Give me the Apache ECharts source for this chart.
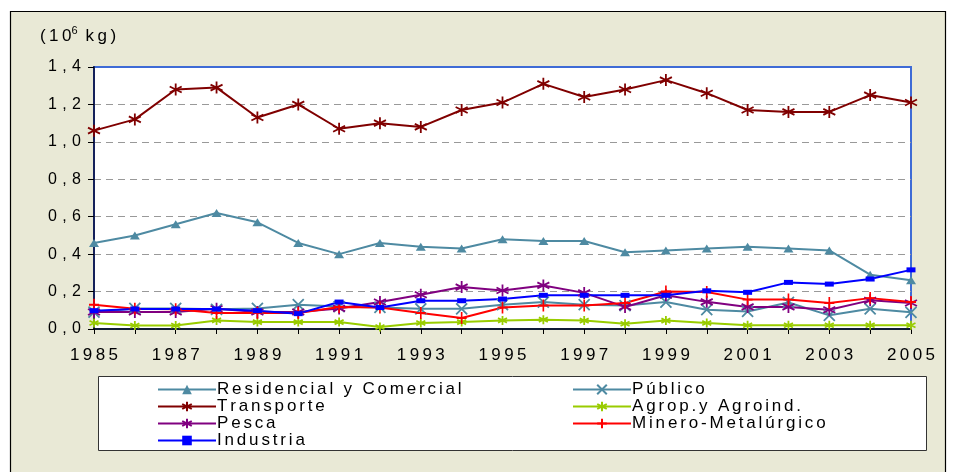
<!DOCTYPE html>
<html>
<head>
<meta charset="utf-8">
<title>Consumo por sector</title>
<script src="https://cdn.jsdelivr.net/npm/echarts@6/dist/echarts.min.js"></script>
<style>
  html, body { margin: 0; padding: 0; background: #ffffff; }
  #chart { width: 957px; height: 472px; }
</style>
</head>
<body>
<div id="chart"></div>
<script>
// Years on the horizontal axis
const years = ['1985','1986','1987','1988','1989','1990','1991','1992','1993','1994','1995',
               '1996','1997','1998','1999','2000','2001','2002','2003','2004','2005'];

// Values per sector, in 10^6 kg
const residencial = [0.46,0.50,0.56,0.62,0.57,0.46,0.40,0.46,0.44,0.43,0.48,0.47,0.47,0.41,0.42,0.43,0.44,0.43,0.42,0.29,0.26];
const publico     = [0.09,0.11,0.11,0.105,0.11,0.13,0.12,0.115,0.108,0.108,0.13,0.144,0.13,0.125,0.144,0.103,0.094,0.142,0.073,0.108,0.089];
const transporte  = [1.06,1.12,1.28,1.29,1.13,1.20,1.07,1.10,1.08,1.17,1.21,1.31,1.24,1.28,1.33,1.26,1.17,1.16,1.16,1.25,1.21];
const agrop       = [0.032,0.019,0.019,0.046,0.037,0.037,0.037,0.011,0.032,0.037,0.046,0.05,0.045,0.028,0.045,0.032,0.02,0.02,0.02,0.02,0.02];
const pesca       = [0.091,0.091,0.091,0.108,0.091,0.091,0.11,0.144,0.183,0.224,0.206,0.233,0.193,0.118,0.18,0.145,0.118,0.118,0.103,0.153,0.139];
const minero      = [0.13,0.108,0.105,0.085,0.085,0.085,0.118,0.115,0.085,0.059,0.115,0.125,0.125,0.139,0.20,0.198,0.157,0.157,0.139,0.165,0.144];
const industria   = [0.098,0.107,0.107,0.107,0.098,0.082,0.144,0.115,0.151,0.151,0.16,0.18,0.18,0.18,0.18,0.204,0.196,0.249,0.24,0.267,0.316];

const FONT = '"Liberation Sans", Arial, sans-serif';
// Letter tracking: thin, six-per-em and three-per-em spaces
const THIN = '\u2009', SIX = '\u2006', THREE = '\u2004';
function track(sp) { return s => String(s).split('').join(sp); }

// Stroke-only marker shapes
const SYM_X = 'path://M0,0L10,10M10,0L0,10';
const SYM_STAR = 'path://M5,0L5,10M0.7,2.5L9.3,7.5M9.3,2.5L0.7,7.5';
const SYM_PLUS = 'path://M5,0L5,12M0,6L10,6';

function line(name, data, color, symbol, size, stroke) {
  return {
    name: name,
    type: 'line',
    data: data,
    symbol: symbol,
    symbolSize: size,
    showAllSymbol: true,
    lineStyle: { color: color, width: 2 },
    itemStyle: { color: color, borderColor: color, borderWidth: stroke ? 1.8 : 0 },
    emphasis: { disabled: true }
  };
}

const legendText = { fontFamily: FONT, fontSize: 17, color: '#000', lineHeight: 14, padding: [0, 0, 0, -4] };

const chart = echarts.init(document.getElementById('chart'), null, { renderer: 'canvas' });

chart.setOption({
  animation: false,
  backgroundColor: '#ffffff',
  graphic: [
    { type: 'rect', z: -10, silent: true,
      shape: { x: 10.5, y: 11.5, width: 935, height: 480 },
      style: { fill: '#E9E9D6', stroke: '#000000', lineWidth: 1.2 } },
    { type: 'rect', z: -9, silent: true,
      shape: { x: 98.5, y: 376.5, width: 828, height: 74 },
      style: { fill: '#ffffff', stroke: '#333333', lineWidth: 1 } }
  ],
  title: {
    text: '(' + THIN + '1' + THIN + '0{s|6}' + THIN + ' k' + THIN + 'g' + THIN + ')',
    left: 35, top: 20,
    textStyle: {
      fontFamily: FONT, fontSize: 17, fontWeight: 'normal', color: '#000', lineHeight: 22,
      rich: { s: { fontFamily: FONT, fontSize: 11, verticalAlign: 'top', lineHeight: 22, color: '#000' } }
    }
  },
  grid: {
    left: 94, right: 46, top: 67, bottom: 143,
    show: true, backgroundColor: '#ffffff', borderColor: '#3E6BD6', borderWidth: 2
  },
  legend: [
    {
      data: ['Residencial y Comercial', 'Transporte', 'Pesca', 'Industria'],
      orient: 'vertical', left: 157, top: 381,
      itemWidth: 58, itemHeight: 12, itemGap: 0, padding: 0,
      formatter: track(SIX),
      textStyle: legendText
    },
    {
      data: ['Público', 'Agrop.y Agroind.', 'Minero-Metalúrgico'],
      orient: 'vertical', left: 572, top: 381,
      itemWidth: 58, itemHeight: 12, itemGap: 0, padding: 0,
      formatter: track(SIX),
      textStyle: legendText
    }
  ],
  xAxis: {
    type: 'category',
    data: years,
    boundaryGap: false,
    axisLine: { lineStyle: { color: '#000', width: 1.5 } },
    axisTick: { show: true, interval: 0, length: 5, lineStyle: { color: '#000' } },
    axisLabel: {
      interval: 1, margin: 18, color: '#000', fontFamily: FONT, fontSize: 17,
      formatter: track(THIN)
    },
    splitLine: { show: false }
  },
  yAxis: {
    type: 'value',
    min: 0, max: 1.4, interval: 0.2,
    axisLine: { show: true, lineStyle: { color: '#14205A', width: 2 } },
    axisTick: { show: true, length: 6, lineStyle: { color: '#000' } },
    axisLabel: {
      margin: 13, color: '#000', fontFamily: FONT, fontSize: 16,
      formatter: v => track(THREE)(v.toFixed(1).replace('.', ','))
    },
    splitLine: { show: true, showMinLine: false, showMaxLine: false,
                 lineStyle: { color: '#999999', type: [7, 5], width: 1 } }
  },
  series: [
    line('Residencial y Comercial', residencial, '#4E8AA2', 'triangle', [10, 8], false),
    line('Público', publico, '#4E8AA2', SYM_X, 11, true),
    line('Transporte', transporte, '#800000', SYM_STAR, 12, true),
    line('Agrop.y Agroind.', agrop, '#99CC00', SYM_STAR, 9, true),
    line('Pesca', pesca, '#800080', SYM_STAR, 12, true),
    line('Minero-Metalúrgico', minero, '#FF0000', SYM_PLUS, [10, 12], true),
    line('Industria', industria, '#0000FF', 'rect', [9, 5], false)
  ]
});
</script>
</body>
</html>
